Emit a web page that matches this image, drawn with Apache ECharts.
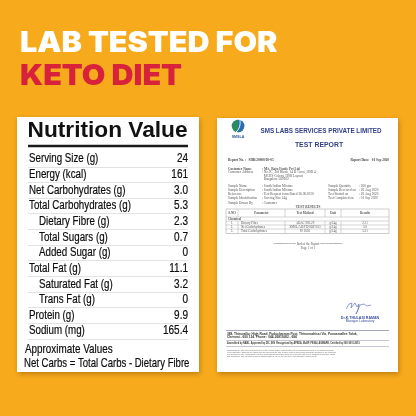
<!DOCTYPE html>
<html><head><meta charset="utf-8">
<script src="https://cdn.jsdelivr.net/npm/echarts@6/dist/echarts.min.js"></script>
<style>html,body{margin:0;padding:0;background:#F7AB1C}#c{width:416px;height:416px}</style>
</head><body><div id="c"></div>
<script>
// ---- data ----
var titleLine1 = 'LAB TESTED FOR';
var titleLine2 = 'KETO DIET';
var tableTitle = 'Nutrition Value';
var nutrients = ['Serving Size (g)','Energy (kcal)','Net Carbohydrates (g)','Total Carbohydrates (g)','Dietary Fibre (g)','Total Sugars (g)','Added Sugar (g)','Total Fat (g)','Saturated Fat (g)','Trans Fat (g)','Protein (g)','Sodium (mg)'];
var amounts = ['24','161','3.0','5.3','2.3','0.7','0','11.1','3.2','0','9.9','165.4'];
var indented = [0,0,0,0,1,1,1,0,1,1,0,0];
var footNotes = ['Approximate Values','Net Carbs = Total Carbs - Dietary Fibre'];
var reportRows = [['1.','Dietary Fibre','AOAC 985.29','g/24g','2.31'],['2.','Net Carbohydrates','SMSL/AD/FD/SOP/023','g/24g','3.0'],['3.','Total Carbohydrates','IS 1656','g/24g','5.31']];

var SANS = "'Liberation Sans', Arial, sans-serif";
var SERIF = "'Liberation Serif','DejaVu Serif',serif";
var BLUE = '#34418a';

var chart = echarts.init(document.getElementById('c'), null, {renderer:'canvas'});

var option = {
  backgroundColor:'#F7AB1C',
  animation:false,
  grid:{left:28,right:228,top:151.2,bottom:77.2,containLabel:false},
  xAxis:{type:'value',show:false,min:0,max:1},
  yAxis:[
    {type:'category',inverse:true,data:nutrients,position:'left',
     axisLine:{show:false},axisTick:{show:false},axisLabel:{show:false},
     splitLine:{show:true,lineStyle:{color:'#e2e2e2',width:1},interval:function(i){return i!==0;}}},
    {type:'category',inverse:true,data:amounts,position:'right',
     axisLine:{show:false},axisTick:{show:false},splitLine:{show:false},axisLabel:{show:false}}
  ],
  series:[{type:'scatter',silent:true,symbolSize:0,itemStyle:{opacity:0},
    data:nutrients.map(function(n,i){return [0,i];})}]
};
chart.setOption(option);

function t(x,y,text,o){
  o=o||{};
  var sx=o.sx||1;
  return {type:'text',x:x,y:y,z:o.z||20,scaleX:sx,style:{text:text,fill:o.fill||'#555',font:o.font||('3.4px '+SERIF),textAlign:o.align||'left',textVerticalAlign:'middle'}};
}
function ln(x1,y1,x2,y2,o){
  o=o||{};
  return {type:'line',z:o.z||20,shape:{x1:x1,y1:y1,x2:x2,y2:y2},style:{stroke:o.stroke||'#888',lineWidth:o.w||0.5}};
}
function nt(x,y,text,size,sx,align){
  return {type:'text',x:x,y:y,z:6,scaleX:sx,
    style:{text:text,fill:'#0c0c0c',font:size+'px '+SANS,textAlign:align||'left',textVerticalAlign:'middle',stroke:'#0c0c0c',lineWidth:0.2}};
}

var g = [];
g.push({type:'rect',z:-1,shape:{x:17,y:117,width:182,height:255},style:{fill:'#fff',shadowBlur:5,shadowColor:'rgba(120,70,0,0.45)',shadowOffsetX:1,shadowOffsetY:2}});
g.push({type:'rect',z:-1,shape:{x:217,y:118,width:181,height:254},style:{fill:'#fff',shadowBlur:5,shadowColor:'rgba(120,70,0,0.45)',shadowOffsetX:1,shadowOffsetY:2}});
// headline
var HEAD = "900 28.5px Inter, Lato, sans-serif";
g.push({type:'text',x:20,y:43.5,z:5,scaleX:1.07,style:{text:titleLine1,fill:'#fff',font:HEAD,textVerticalAlign:'middle'}});
g.push({type:'text',x:20,y:76,z:5,scaleX:1.07,style:{text:titleLine2,fill:'#D8213B',font:HEAD,textVerticalAlign:'middle'}});
// nutrition title
g.push({type:'text',x:27.5,y:131,z:5,style:{text:tableTitle,fill:'#111',font:"bold 22.7px "+SANS,textVerticalAlign:'middle'}});
g.push(ln(28,146,188,146,{stroke:'#1a1a1a',w:2.6,z:5}));
nutrients.forEach(function(name,i){
  var y = chart.convertToPixel({yAxisIndex:0}, i);
  var x = chart.convertToPixel({xAxisIndex:0}, 0) + (indented[i]?11:1);
  g.push(nt(x,y,name,12.5,0.78));
});
amounts.forEach(function(v,i){
  var y = chart.convertToPixel({yAxisIndex:1}, i);
  var x = chart.convertToPixel({xAxisIndex:0}, 1);
  g.push(nt(x,y,v,12.5,0.8,'right'));
});
g.push(nt(25,349,footNotes[0],13,0.76));
g.push(nt(24,363,footNotes[1],13,0.735));

// ---- document ----
g.push({type:'circle',z:20,shape:{cx:238,cy:126,r:6.3},style:{fill:'#2e8a63'}});
g.push({type:'sector',z:21,shape:{cx:238,cy:126,r:6.3,startAngle:-Math.PI/2,endAngle:Math.PI/2},style:{fill:'#2a6fb0'}});
g.push({type:'bezierCurve',z:22,shape:{x1:236,y1:132,x2:240,y2:120,cpx1:241,cpy1:128},style:{stroke:'#fff',lineWidth:0.9,fill:null}});
g.push(t(238,137,'SMSLA',{fill:'#2a5ea0',align:'center',font:'bold 3.6px sans-serif'}));
g.push(t(321,131,'SMS LABS SERVICES PRIVATE LIMITED',{fill:BLUE,align:'center',font:"bold 6.3px "+SANS}));
g.push(t(319,145,'TEST REPORT',{fill:BLUE,align:'center',font:"bold 6.9px "+SANS}));
g.push(t(228,160,'Report No. :   SDR/20000/18-05',{font:'bold 3.4px '+SERIF,fill:'#444'}));
g.push(t(389,160,'Report Date:   01 Sep 2020',{align:'right',font:'bold 3.4px '+SERIF,fill:'#444'}));
var info = [
 [169,'Customer Name',': M/s. Raju Foods Pvt Ltd','',''],
 [172.5,'Customer Address',': No.9C, 3rd Block, 14 D Cross, HSR 4','',''],
 [176,'','  MCHS Colony, HSR Layout','',''],
 [179.5,'','  Bangalore 560102','',''],
 [186,'Sample Name',': South Indian Mixture','Sample Quantity',': 200 gm'],
 [190,'Sample Description',': South Indian Mixture','Sample Received on',': 26 Aug 2020'],
 [194,'Reference',': Test Request form Dated 26.08.2020','Test Started on',': 26 Aug 2020'],
 [198.5,'Sample Identification',': Serving Size 24g','Test Completed on',': 01 Sep 2020'],
 [203,'Sample Drawn By',': Customer','','']
];
info.forEach(function(r,i){
  var bold = i===0;
  g.push(t(228,r[0],r[1],{font:(bold?'bold ':'')+'3.4px '+SERIF}));
  g.push(t(262,r[0],r[2],{font:(bold?'bold ':'')+'3.4px '+SERIF}));
  if(r[3]){g.push(t(328,r[0],r[3]));g.push(t(359,r[0],r[4]));}
});
g.push(t(308,207,'TEST RESULTS',{align:'center',font:'bold 3.4px '+SERIF}));
var tx=[226,238,285,325,341,389];
g.push({type:'rect',z:20,shape:{x:226,y:209,width:163,height:24.5},style:{fill:null,stroke:'#999',lineWidth:0.5}});
[217,221,225,229].forEach(function(y){g.push(ln(226,y,389,y,{stroke:'#aaa'}));});
[238,285,325,341].forEach(function(x){g.push(ln(x,209,x,217,{stroke:'#aaa'}));g.push(ln(x,221,x,233.5,{stroke:'#aaa'}));});
var hdr=['S.NO','Parameter','Test Method','Unit','Results'];
hdr.forEach(function(h,i){g.push(t((tx[i]+tx[i+1])/2,213,h,{align:'center',font:'bold 3.2px '+SERIF}));});
g.push(t(228,219,'Chemical',{font:'bold 3.2px '+SERIF}));
reportRows.forEach(function(r,j){
  var y=223+j*4.2;
  g.push(t(232,y,r[0],{align:'center',font:'3.2px '+SERIF}));
  g.push(t(241,y,r[1],{font:'3.2px '+SERIF}));
  g.push(t(305,y,r[2],{align:'center',font:'3.2px '+SERIF}));
  g.push(t(333,y,r[3],{align:'center',font:'3.2px '+SERIF}));
  g.push(t(365,y,r[4],{align:'center',font:'3.2px '+SERIF}));
});
g.push(t(308,244,'--------------------- End of the Report ---------------------',{align:'center',font:'3.2px '+SERIF}));
g.push(t(308,248,'Page 1 of 1',{align:'center',font:'3.2px '+SERIF}));
g.push({type:'polyline',z:20,shape:{points:[[346,309],[349,304],[352,303],[351,308],[355,303],[357,307],[359,304],[358,310],[356,314],[360,305],[364,304],[367,306],[371,305]]},style:{stroke:'#4a5fb0',lineWidth:0.6,fill:null}});
g.push(t(360,318,'Dr.K.THULASI RAMAN',{align:'center',fill:'#3a4fa0',font:'bold 3.6px sans-serif'}));
g.push(t(360,321.5,'Manager Laboratory',{align:'center',fill:'#3a4fa0',font:'3.2px sans-serif'}));
g.push(ln(226,330.5,389,330.5,{stroke:'#6a6f90',w:0.6}));
g.push(t(227,334,'388, Thiruvallur High Road, Puduchatram Post, Thirumazhisai Via, Poonamallee Taluk,',{font:'bold 3.2px sans-serif',fill:'#333'}));
g.push(t(227,337.5,'Chennai - 600 124. Phone : 044-26811682 - 684',{font:'bold 3.2px sans-serif',fill:'#333'}));
g.push(ln(226,340.5,389,340.5,{stroke:'#8a8fa8',w:0.5}));
g.push(t(227,343.5,'Accredited by NABL  Approved by DIC, BIS  Recognised by APEDA, MoEF, FSSAI, AGMARK, Certified by ISO 9001:2015',{font:'bold 2.6px sans-serif',fill:'#333',sx:0.9}));
g.push(ln(226,346.5,389,346.5,{stroke:'#8a8fa8',w:0.5}));
var disc=['CONDITIONS : This test report refers only to the sample tested. Results shall not be reproduced except in full without approval',
'of the laboratory. Samples are retained for 30 days from the date of issue of the report unless otherwise specified by the customer',
'The Company\'s sole responsibility is to the Client and this document does not exonerate parties to a transaction from their rights',
'and obligations. The retention period of samples shall be as per the lab policy and regulatory requirements.'];
disc.forEach(function(s,k){g.push(t(227,350+k*2.1,s,{font:'2px sans-serif',fill:'#666',sx:0.95}));});

chart.setOption({graphic:{elements:g}});
</script></body></html>
